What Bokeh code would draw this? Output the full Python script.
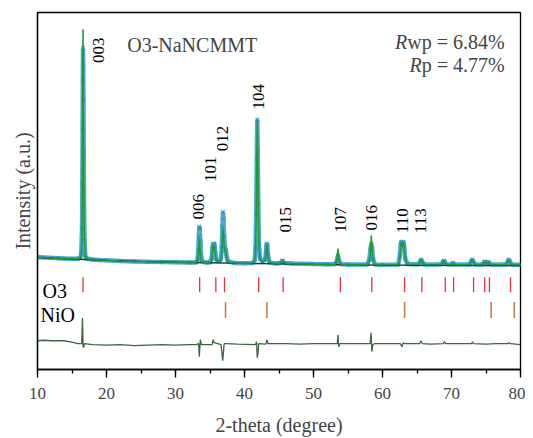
import math
from bokeh.plotting import figure
from bokeh.models import Range1d, SingleIntervalTicker, FixedTicker, Label
from bokeh.core.properties import value
from bokeh.embed import file_html
from bokeh.resources import INLINE

# ---------------- data ----------------
two_theta = [
    10.0, 11.0, 12.0, 13.0, 14.0, 15.0, 15.8, 16.2,
    16.35, 16.45, 16.5, 16.54, 16.57, 16.6, 16.63, 16.66, 16.7, 16.75, 16.82, 16.92, 17.1,
    18.0, 19.0, 20.0, 22.0, 24.0, 26.0, 28.0, 30.0, 32.0, 33.0,
    33.2, 33.3, 33.38, 33.45, 33.52, 33.6, 33.7, 33.85,
    34.3, 35.0,
    35.25, 35.35, 35.45, 35.55, 35.65, 35.75, 35.9,
    36.3, 36.6, 36.7, 36.8, 36.88, 36.95, 37.05, 37.2, 37.3, 37.4, 37.6,
    38.5, 40.0, 41.2,
    41.5, 41.6, 41.7, 41.78, 41.85, 41.92, 42.0, 42.1, 42.25, 42.6,
    43.0, 43.1, 43.2, 43.3, 43.4, 43.6,
    44.5, 45.2, 45.5, 45.8, 47.0, 50.0, 52.0,
    53.2, 53.4, 53.55, 53.7, 53.9,
    55.0, 57.8,
    58.1, 58.25, 58.38, 58.5, 58.65, 58.9,
    60.0,
    62.3, 62.5, 62.65, 62.75, 62.9, 63.05, 63.15, 63.3, 63.6,
    65.2, 65.45, 65.6, 65.75, 66.0,
    68.5, 68.75, 68.9, 69.05, 69.3,
    70.0, 70.2, 70.4,
    72.6, 72.85, 73.0, 73.15, 73.4,
    74.5, 74.8, 75.0, 75.3, 75.5, 75.8,
    77.9, 78.15, 78.3, 78.45, 78.7, 80.0,
]
i_obs = [
    11.5, 11.0, 10.6, 10.3, 10.0, 9.8, 9.7, 10.5,
    16, 40, 85, 140, 190, 222, 205, 170, 118, 62, 28, 13, 10,
    9.0, 8.5, 8.1, 7.4, 7.0, 6.6, 6.3, 6.1, 5.9, 6.0,
    9, 18, 32, 42, 40, 28, 14, 7,
    6, 6,
    10, 20, 25, 22, 25, 18, 9,
    7, 10, 22, 42, 57, 50, 32, 20, 18, 12, 7,
    5.5, 5.2, 5.5,
    9, 20, 55, 110, 150, 118, 65, 25, 10, 7,
    9, 16, 25, 24, 14, 6,
    5, 5.5, 8, 5.5, 4.8, 4.3, 4.1,
    4.5, 8, 13, 8, 4.5,
    3.9, 4.0,
    9, 19, 25, 20, 9, 4,
    3.7,
    4, 12, 25, 27, 24, 27, 22, 10, 4.5,
    4, 7, 9, 7, 4,
    3.8, 6.5, 8, 6, 4,
    3.8, 5.5, 4,
    3.8, 7, 9, 7, 4,
    4, 7, 5.5, 6.5, 5, 3.8,
    3.9, 7, 9, 7, 4, 3.6,
]
i_calc = [
    11.2, 10.9, 10.5, 10.2, 10.0, 9.8, 9.7, 10.2,
    14, 35, 80, 150, 215, 241, 215, 160, 105, 55, 25, 12, 9.8,
    9.2, 8.7, 8.2, 7.5, 7.0, 6.6, 6.3, 6.1, 5.9, 6.0,
    7, 12, 24, 30, 24, 14, 9, 6.5,
    5.8, 5.9,
    8, 17, 23, 19, 23, 15, 8,
    6.5, 8, 16, 32, 40, 35, 22, 17, 17, 10, 6.5,
    5.4, 5.1, 5.4,
    8, 18, 50, 112, 150, 120, 60, 22, 9, 6.5,
    8, 14, 23, 22, 12, 5.8,
    4.9, 5.3, 7.5, 5.3, 4.7, 4.2, 4.0,
    4.2, 9, 20, 8, 4.2,
    3.8, 3.9,
    7, 16, 33, 16, 7, 3.9,
    3.6,
    3.8, 10, 24, 27, 22, 27, 20, 9, 4.2,
    3.8, 6.5, 8.5, 6.5, 3.8,
    3.6, 6, 8, 5.5, 3.7,
    3.6, 5, 3.7,
    3.6, 6.5, 8.5, 6.5, 3.7,
    3.7, 6.5, 5, 6, 4.5, 3.6,
    3.7, 6.5, 8.5, 6.5, 3.8, 3.5,
]
bg_two_theta = [10, 15, 20, 25, 30, 35, 40, 45, 50, 55, 60, 65, 70, 75, 80]
i_background = [10.8, 9.4, 8.0, 7.0, 6.2, 5.6, 5.0, 4.5, 4.0, 3.6, 3.3, 3.1, 3.0, 2.9, 2.8]

diff_two_theta = [
    10.0, 11.0, 12.0, 13.8, 15.0, 15.8, 16.4, 16.52, 16.6, 16.68, 16.8,
    18.0, 20.0, 22.0, 24.0, 26.0, 28.0, 30.0, 32.0, 33.0,
    33.35, 33.45, 33.6, 33.75, 35.3, 35.45, 35.6, 36.6, 36.85, 37.05, 37.3,
    39.0, 41.6, 41.75, 41.85, 41.95, 42.05, 43.1, 43.25, 43.4,
    46.0, 48.0, 50.0, 53.45, 53.55, 53.65, 53.8, 56.0, 58.2, 58.35, 58.45, 58.6, 58.8,
    60.5, 62.6, 62.8, 63.0, 63.2, 65.4, 65.55, 65.8, 67.0, 68.8, 68.95, 69.2,
    71.0, 72.9, 73.05, 73.2, 75.0, 76.5, 78.2, 78.35, 78.6, 80.0,
]
diff = [
    3, 3.5, 3, 3, 1.5, 0, 0, 26, -2, -4, 0,
    -1, -1.5, -1, -2, -1.5, -1, -1.5, -1, -1,
    0, -13, 4, -1, -1, 4, 1, -1, -17, 0, 0,
    -0.5, -1, 2, -14, -10, 0, -0.5, 4, 0,
    0, -0.5, 0, 0, 9, -3, 0, 0, 0, 11, -8, -1, 0,
    0, 0, -3, 1, 0, 0, 3, 0, -0.5, 0, 2, 0,
    0, 0, 2, 0, -0.5, 0, 0, 1, 0, -1,
]

o3_positions = [16.6, 33.5, 35.85, 37.1, 42.05, 45.6, 53.9, 58.45, 63.2, 65.7,
                69.1, 70.3, 73.2, 74.8, 75.5, 78.55]
nio_positions = [37.25, 43.25, 63.2, 75.75, 79.1]

hkl_labels = ["003", "006", "101", "012", "104", "015", "107", "016", "110", "113"]
hkl_x = [18.84, 33.33, 35.07, 36.8, 42.0, 45.9, 53.9, 58.4, 62.9, 65.5]
hkl_y = [220, 62, 100, 131, 173, 49, 49, 51, 48, 48]

DIFF_OFFSET = -76
O3_ROW = (-9, -24)
NIO_ROW = (-34, -50)

SERIF = "Liberation Serif"

# ---------------- figure ----------------
p = figure(width=525, height=438,
           x_range=Range1d(10, 80), y_range=Range1d(-102, 258),
           output_backend="svg", toolbar_location=None,
           min_border_left=37, min_border_right=5, min_border_top=12,
           min_border_bottom=66)
p.grid.visible = False
p.outline_line_color = "black"
p.outline_line_width = 1.3
p.background_fill_color = "white"
p.border_fill_color = "white"

xa = p.xaxis[0]
xa.ticker = SingleIntervalTicker(interval=10, num_minor_ticks=2)
xa.axis_label = "2-theta (degree)"
xa.axis_label_text_font = SERIF
xa.axis_label_text_font_size = "20px"
xa.axis_label_text_font_style = "normal"
xa.axis_label_standoff = 12
xa.major_label_text_font = SERIF
xa.major_label_text_font_size = "17px"
xa.major_label_standoff = 10
xa.major_tick_out = 8
xa.major_tick_in = 0
xa.minor_tick_out = 4
xa.minor_tick_in = 0
xa.axis_line_width = 1.3
xa.major_tick_line_width = 1.3
xa.minor_tick_line_width = 1.3

ya = p.yaxis[0]
ya.ticker = FixedTicker(ticks=[])
ya.axis_label = "Intensity (a.u.)"
ya.axis_label_text_font = SERIF
ya.axis_label_text_font_size = "20px"
ya.axis_label_text_font_style = "normal"
ya.axis_label_standoff = 4
ya.major_label_text_font_size = "0px"
ya.major_tick_line_color = None
ya.minor_tick_line_color = None
ya.axis_line_width = 1.3

# observed (thick band + x markers)
p.line(two_theta, i_obs, line_color="#45A5CD", line_width=4.5, line_alpha=0.95)
p.scatter(two_theta, i_obs, marker="x", size=5, line_color="#2F95C2", line_width=1.1)
# background
p.line(bg_two_theta, i_background, line_color="#1E3350", line_width=1.4)
# calculated
p.line(two_theta, i_calc, line_color="#1E9A3A", line_width=1.5)

# Bragg positions
p.segment(x0=o3_positions, y0=[O3_ROW[0]] * len(o3_positions),
          x1=o3_positions, y1=[O3_ROW[1]] * len(o3_positions),
          line_color="#E5323F", line_width=1.3)
p.segment(x0=nio_positions, y0=[NIO_ROW[0]] * len(nio_positions),
          x1=nio_positions, y1=[NIO_ROW[1]] * len(nio_positions),
          line_color="#C27A3C", line_width=1.5)

# difference
p.line(diff_two_theta, [d + DIFF_OFFSET for d in diff], line_color="#3E6444", line_width=1.3)

# hkl labels
p.text(x=hkl_x, y=hkl_y, text=hkl_labels, angle=math.pi / 2,
       text_align="center", text_baseline="middle",
       text_font=value(SERIF), text_font_size="17px", text_color="black")

# phase labels
p.text(x=[10.72, 10.43], y=[-23, -47], text=["O3", "NiO"],
       text_align="left", text_baseline="alphabetic",
       text_font=value(SERIF), text_font_size="20px", text_color="black")

p.add_layout(Label(x=23.0, y=225, text="O3-NaNCMMT", text_font=SERIF,
                   text_font_size="20px", text_baseline="alphabetic"))
p.add_layout(Label(x=77.7, y=228, text="wp = 6.84%", text_font=SERIF,
                   text_font_size="20px", text_align="right", text_baseline="alphabetic"))
p.add_layout(Label(x=77.7, y=228, x_offset=-97.4, text="R", text_font=SERIF,
                   text_font_size="20px", text_font_style="italic",
                   text_align="right", text_baseline="alphabetic"))
p.add_layout(Label(x=77.7, y=205, text="p = 4.77%", text_font=SERIF,
                   text_font_size="20px", text_align="right", text_baseline="alphabetic"))
p.add_layout(Label(x=77.7, y=205, x_offset=-82.9, text="R", text_font=SERIF,
                   text_font_size="20px", text_font_style="italic",
                   text_align="right", text_baseline="alphabetic"))

open("out.html", "w").write(file_html(p, INLINE))
